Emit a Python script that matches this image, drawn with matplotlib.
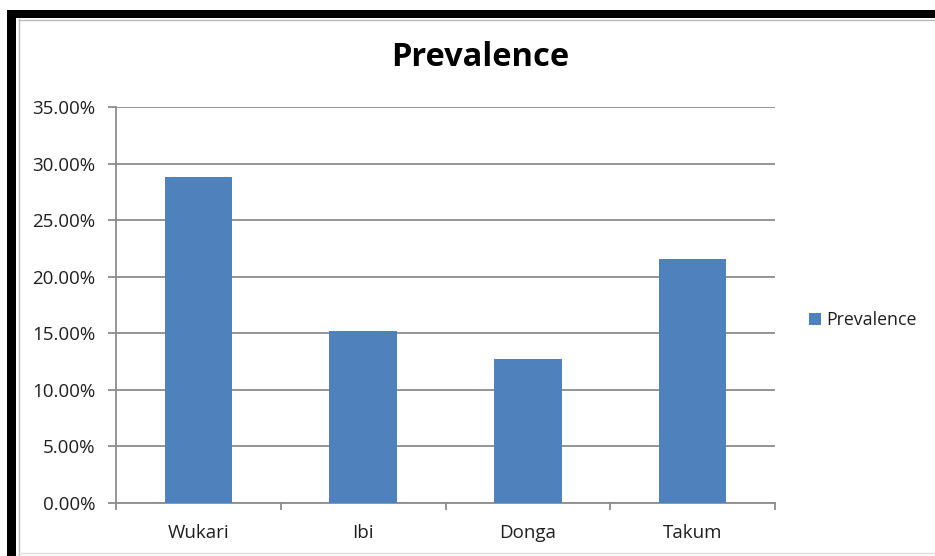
import matplotlib.pyplot as plt
from matplotlib.patches import Rectangle
from matplotlib.lines import Line2D
from matplotlib.ticker import FuncFormatter, MultipleLocator

# Data
districts = ["Wukari", "Ibi", "Donga", "Takum"]
prevalence = [28.8, 15.2, 12.7, 21.6]  # percent

bar_color = "#4F81BD"
grid_color = "#8C8C8C"
text_color = "#1F1F1F"
plt.rcParams['font.family'] = ['Open Sans', 'DejaVu Sans']

fig = plt.figure(figsize=(9.35, 5.56), dpi=100)
W, H = 935, 556

# Plot area in pixels: left 116, right 775, top 107, bottom 503
ax = fig.add_axes([116 / W, 1 - 503 / H, (775 - 116) / W, (503 - 107) / H])

x = range(len(districts))
ax.bar(x, prevalence, width=0.41, color=bar_color, label="Prevalence", zorder=3)

ax.set_xlim(-0.5, len(districts) - 0.5)
ax.set_ylim(0, 35)
ax.yaxis.set_major_locator(MultipleLocator(5))
ax.yaxis.set_major_formatter(FuncFormatter(lambda v, p: f"{v:.2f}%"))
ax.grid(axis="y", color=grid_color, linewidth=1.3, zorder=0)

ax.set_xticks(list(x))
ax.set_xticklabels(districts)
ax.set_xticks([i - 0.5 for i in range(len(districts) + 1)], minor=True)
ax.tick_params(axis="x", which="major", length=0, pad=15, labelsize=13.5, labelcolor=text_color)
ax.tick_params(axis="x", which="minor", length=5, color=grid_color, width=1.3, direction="out")
ax.tick_params(axis="y", length=6, color=grid_color, width=1.3, labelsize=13.5, labelcolor=text_color, pad=9)

for side in ["top", "right"]:
    ax.spines[side].set_visible(False)
for side in ["left", "bottom"]:
    ax.spines[side].set_color(grid_color)
    ax.spines[side].set_linewidth(1.3)

fig.text(480 / W, 1 - 58 / H, "Prevalence", ha="center", va="center",
         fontsize=23.5, fontweight="bold", color="black")

fig.legend(loc="center left", bbox_to_anchor=(793 / W, 1 - 320 / H), frameon=False,
           fontsize=12.8, handlelength=0.65, handleheight=0.65, handletextpad=0.3,
           labelcolor=text_color)

# Outer frame: thick black on top and left, thin gray inner line
fig.add_artist(Rectangle((7 / W, 0), 9 / W, 1 - 10 / H, transform=fig.transFigure,
                         color="black", lw=0))
fig.add_artist(Rectangle((7 / W, 1 - 18 / H), 1 - 7 / W, 8 / H, transform=fig.transFigure,
                         color="black", lw=0))
fig.add_artist(Line2D([19 / W, 19 / W], [1 / H, 1 - 19 / H], transform=fig.transFigure,
                      color="#BBBBBB", lw=1))
fig.add_artist(Line2D([19 / W, 1], [1 - 19.5 / H, 1 - 19.5 / H], transform=fig.transFigure,
                      color="#BBBBBB", lw=1))
fig.add_artist(Line2D([19 / W, 1], [3 / H, 3 / H], transform=fig.transFigure,
                      color="#DDDDDD", lw=1))

fig.savefig("out.png", dpi=100)
